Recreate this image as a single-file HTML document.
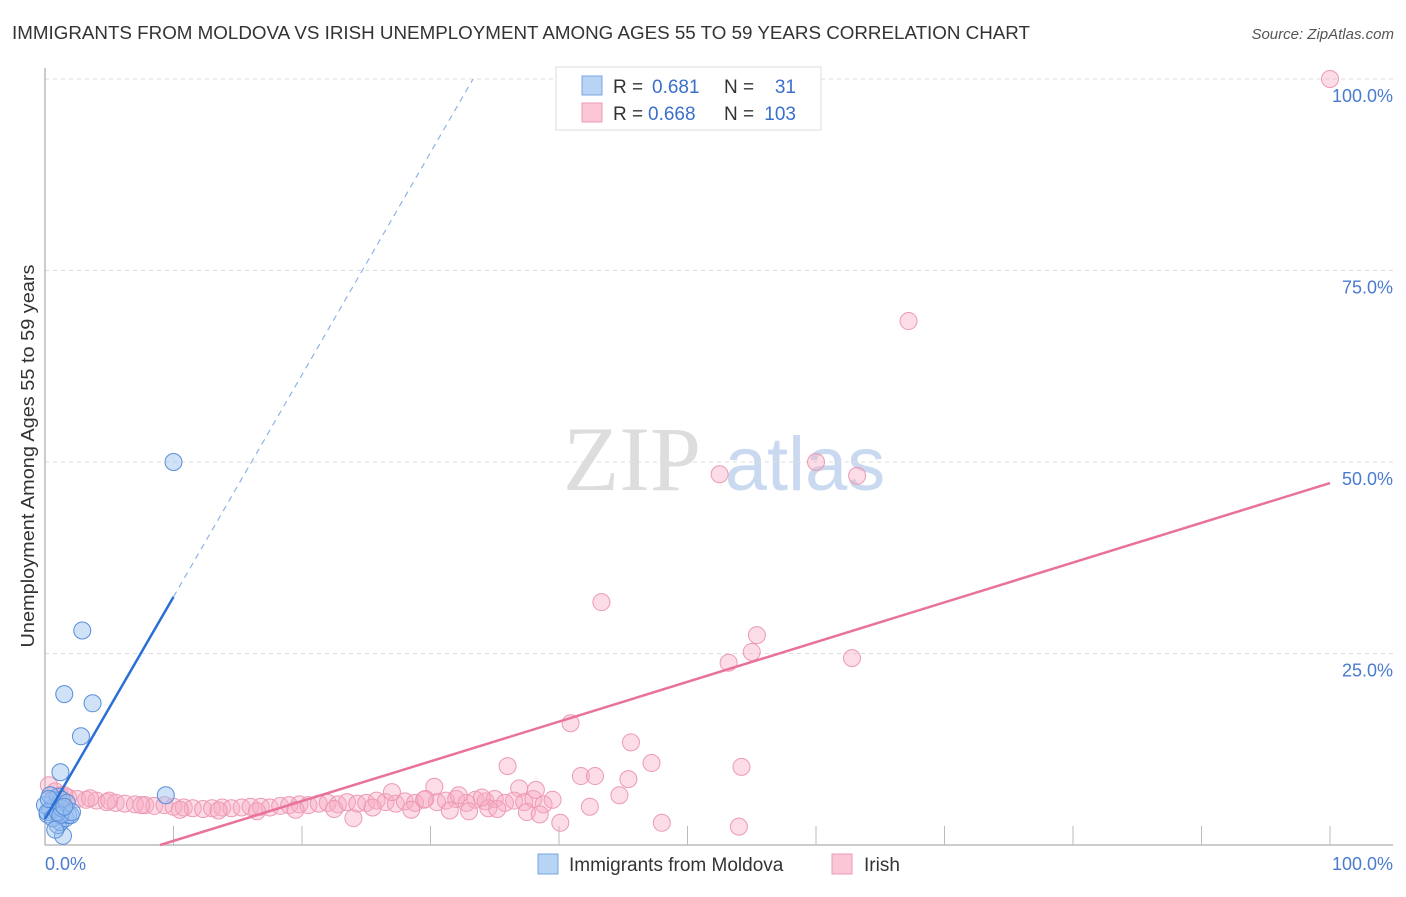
<!DOCTYPE html>
<html><head><meta charset="utf-8"><style>
body{margin:0;background:#fff;font-family:"Liberation Sans",sans-serif;}
</style></head><body>
<svg width="1406" height="892" xmlns="http://www.w3.org/2000/svg" font-family="Liberation Sans, sans-serif">
<text x="12" y="39" font-size="18" fill="#333" textLength="1018" lengthAdjust="spacingAndGlyphs">IMMIGRANTS FROM MOLDOVA VS IRISH UNEMPLOYMENT AMONG AGES 55 TO 59 YEARS CORRELATION CHART</text>
<text x="1394" y="39" font-size="15" fill="#555" font-style="italic" text-anchor="end">Source: ZipAtlas.com</text>
<g>
<text x="632" y="490" font-size="92" fill="#ddd" font-family="Liberation Serif, serif" text-anchor="middle">ZIP</text>
<text x="805" y="490" font-size="76" fill="#c9daf0" text-anchor="middle">atlas</text>
</g>
<g id="grid"></g>
<g id="axes"></g>
<g id="pts"></g>
<g id="lines"></g>
<text transform="translate(34,456) rotate(-90)" font-size="18" fill="#333" text-anchor="middle" textLength="383" lengthAdjust="spacingAndGlyphs">Unemployment Among Ages 55 to 59 years</text>
<text x="45" y="870" font-size="18" fill="#4a7bd0">0.0%</text>
<text x="1393" y="870" font-size="18" fill="#4a7bd0" text-anchor="end">100.0%</text>
<g>
<rect x="556" y="67" width="265" height="63" fill="#fff" stroke="#ddd"/>
<rect x="582" y="76" width="20" height="19" fill="#b8d4f5" stroke="#7aa6e0"/>
<rect x="582" y="103" width="20" height="19" fill="#fbc6d5" stroke="#ec9ab2"/>
<text x="613" y="93" font-size="19" fill="#333">R =</text>
<text x="652" y="93" font-size="19" fill="#3a6fcc">0.681</text>
<text x="724" y="93" font-size="19" fill="#333">N =</text>
<text x="796" y="93" font-size="19" fill="#3a6fcc" text-anchor="end">31</text>
<text x="613" y="120" font-size="19" fill="#333">R =</text>
<text x="648" y="120" font-size="19" fill="#3a6fcc">0.668</text>
<text x="724" y="120" font-size="19" fill="#333">N =</text>
<text x="796" y="120" font-size="19" fill="#3a6fcc" text-anchor="end">103</text>
</g>
<g>
<rect x="538" y="854" width="20" height="20" fill="#b8d4f5" stroke="#7aa6e0"/>
<text x="569" y="871" font-size="19" fill="#333">Immigrants from Moldova</text>
<rect x="832" y="854" width="20" height="20" fill="#fbc6d5" stroke="#ec9ab2"/>
<text x="864" y="871" font-size="19" fill="#333">Irish</text>
</g>
</svg>
<script>
const yTicks=[25,50,75,100];
const yTickLabels=["25.0%","50.0%","75.0%","100.0%"];
const xTicks=[10,20,30,40,50,60,70,80,90,100];
const blueX=[10,2.9,1.5,3.7,2.8,1.2,9.4,1.4,1,1.2,0.4,0.8,0.2,1.6,1.8,0.6,1,1.3,2,0,0.2,0.6,1,1.3,1.7,0.4,1.2,2.1,0.8,0.3,1.5];
const blueY=[50,28,19.7,18.5,14.2,9.5,6.5,1.2,2.6,3,4.6,5.2,4,3.5,3.9,5.9,6.3,5.9,3.9,5.2,4.3,3.5,4.3,4.8,5.5,6.5,3.9,4.3,2,6,5];
const pinkX=[100,67.2,52.5,60,63.2,43.3,55.4,55,53.2,62.8,40.9,45.6,47.2,54.2,36,41.7,42.8,45.4,36.9,48,54,40.1,42.4,44.7,30.3,
0.3,0.8,1.2,1.8,2.5,3.2,4,4.8,5.5,6.2,7,7.8,8.5,9.3,10,10.8,11.5,12.3,13,13.8,14.5,15.3,16,16.8,17.5,18.3,19,19.8,20.5,21.3,22,22.8,23.5,24.3,25,25.8,26.5,27.3,28,28.8,29.5,30.5,31.2,32,32.8,33.5,34.3,35,35.8,36.5,37.3,38,38.8,39.5,1.5,3.5,5,7.5,10.5,13.5,16.5,19.5,22.5,25.5,28.5,31.5,34.5,37.5,33,38.5,24,32.2,27,34,38.2,29.6,35.2];
const pinkY=[100,68.4,48.4,50,48.2,31.7,27.4,25.2,23.8,24.4,15.9,13.4,10.7,10.2,10.3,9,9,8.6,7.4,2.9,2.4,2.9,5,6.5,7.6,
7.8,7,6.5,6.2,6,5.9,5.8,5.6,5.5,5.4,5.3,5.2,5.1,5.2,5,4.9,4.8,4.7,4.8,4.9,4.8,4.9,5,5,4.9,5.1,5.2,5.3,5.2,5.4,5.5,5.3,5.6,5.4,5.5,5.8,5.6,5.4,5.7,5.5,5.9,5.6,5.8,6,5.5,5.9,5.7,6,5.5,5.8,5.6,6,5.3,5.9,6.5,6.1,5.8,5.2,4.6,4.5,4.4,4.6,4.7,4.9,4.6,4.5,4.8,4.3,4.4,4,3.5,6.5,6.9,6.2,7.2,6,4.7,7.1];
const blueFit=[3.4,2.9], pinkFit=[-4.65,0.519];
const X=v=>45+v*12.85, Y=v=>845-v*7.66;
const NS="http://www.w3.org/2000/svg";
function mk(t,a,p){const e=document.createElementNS(NS,t);for(const k in a)e.setAttribute(k,a[k]);p.appendChild(e);return e;}
const grid=document.getElementById('grid'),axes=document.getElementById('axes'),pts=document.getElementById('pts'),lines=document.getElementById('lines');
yTicks.forEach((t,i)=>{
 const l=mk('line',{x1:45,x2:1393,y1:Y(t),y2:Y(t),stroke:'#ddd','stroke-dasharray':'4,4'},grid);
 
 
 const tx=mk('text',{x:1393,y:Y(t)+23,'font-size':18,fill:'#4a7bd0','text-anchor':'end'},grid);
 tx.textContent=yTickLabels[i];
 
 
});
const ax=mk('line',{x1:45,x2:1393,y1:845,y2:845,stroke:'#bbb','stroke-width':1.5},axes);


const ay=mk('line',{x1:45,x2:45,y1:68,y2:845,stroke:'#bbb','stroke-width':1.5},axes);


xTicks.forEach(t=>{
 const l=mk('line',{x1:X(t),x2:X(t),y1:826,y2:845,stroke:'#bbb'},axes);
 
 
});
pinkX.forEach((x,i)=>{
 const c=mk('circle',{cx:X(x),cy:Y(pinkY[i]),r:8.5,fill:'rgba(248,170,195,0.4)',stroke:'#ec9ab2','stroke-width':1},pts);
 
 
});
blueX.forEach((x,i)=>{
 const c=mk('circle',{cx:X(x),cy:Y(blueY[i]),r:8.5,fill:'rgba(150,190,240,0.45)',stroke:'#5a8ed8','stroke-width':1},pts);
 
 
});
const bx2=(100-blueFit[0])/blueFit[1];
const b1=mk('line',{x1:X(0),y1:Y(blueFit[0]),x2:X(10),y2:Y(blueFit[0]+blueFit[1]*10),stroke:'#2a6fd6','stroke-width':2.5},lines);


const b2=mk('line',{x1:X(10),y1:Y(blueFit[0]+blueFit[1]*10),x2:X(bx2),y2:Y(100),stroke:'#8fb3e6','stroke-width':1.2,'stroke-dasharray':'6,5'},lines);


const px0=-pinkFit[0]/pinkFit[1];
const p1=mk('line',{x1:X(px0),y1:Y(0),x2:X(100),y2:Y(pinkFit[0]+pinkFit[1]*100),stroke:'#e8729a','stroke-width':2.5},lines);


</script>
</body></html>
